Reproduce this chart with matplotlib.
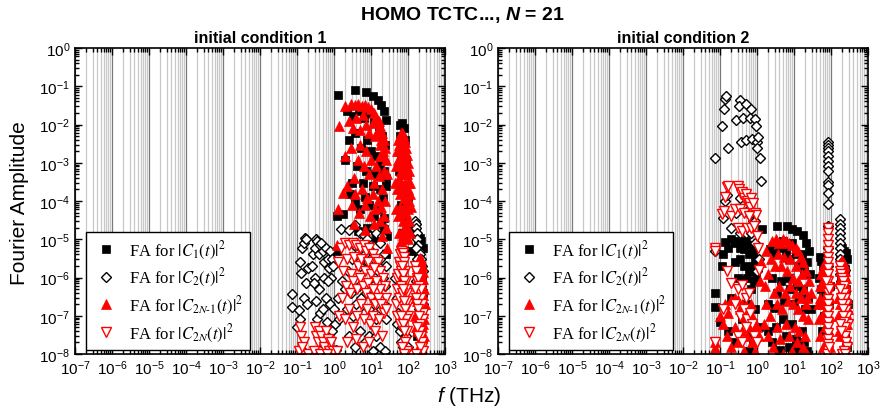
import numpy as np
import matplotlib
matplotlib.use("Agg")
import matplotlib.pyplot as plt
from matplotlib.ticker import LogLocator, FuncFormatter, NullFormatter

plt.rcParams['font.family'] = ['Liberation Sans', 'DejaVu Sans']
plt.rcParams['mathtext.fontset'] = 'custom'
plt.rcParams['mathtext.rm'] = 'Liberation Sans'
plt.rcParams['mathtext.it'] = 'Liberation Sans:italic'
plt.rcParams['mathtext.bf'] = 'Liberation Sans:bold'
plt.rcParams['mathtext.bfit'] = 'Liberation Sans:italic:bold'

# ---------------- data: (f in THz, Fourier amplitude) ----------------
# initial condition 1
c1_ic1 = [(1.3,6e-2),(3.8,8e-2),(7.2,7e-2),(11,5.5e-2),(15,4.5e-2),(19,3.3e-2),(22,2.2e-2),(25,1.3e-2),
          (2.2,2.2e-2),(3.3,1.7e-2),(4.8,2.3e-2),(6.5,1.5e-2),(9,2e-2),(12,1.2e-2),(16,8e-3),(20,5e-3),(24,3e-3),
          (2.5,4e-3),(3.6,6e-3),(5.5,2.5e-3),(8,4e-3),(10,2e-3),(14,1.5e-3),(18,1e-3),(22,6e-4),(26,4e-4),
          (2.0,1.2e-3),(3.0,3e-4),(4.2,8e-4),(6,3e-4),(7.5,6e-4),(11,2.5e-4),(13,5e-4),(17,2e-4),(21,1.2e-4),(25,2.5e-4),
          (1.2,4e-5),(1.8,4.5e-5),(2.7,1.5e-4),(3.8,9e-5),(5,6e-5),(6.8,1.3e-4),(9,8e-5),(12,4e-5),(15,6e-5),
          (19,2.5e-5),(23,3.5e-5),(27,1.2e-5),(1.2,5e-6),(4.5,1.6e-5),(8,2e-5),(14,1.1e-5),(22,1.8e-5),(26,4e-6),
          (62,1e-2),(70,1.1e-2),(77,8e-3),(60,5e-3),(84,4e-3),(66,1.5e-3),(90,1.2e-3),(58,6e-4),(95,5e-4),
          (72,2e-4),(100,1.3e-4),(64,8e-5),(80,4e-5),(105,2e-5),(68,1.5e-5),(98,5e-6),(58,1e-6),
          (150,2.5e-5),(165,1.5e-5),(185,1e-5),(205,1.1e-5),(230,9e-6),(250,6e-6),(160,5e-6),(190,3e-6),
          (215,2e-6),(240,1e-6),(175,8e-7),(260,4e-7),(200,2e-7),(230,6e-8),(180,3e-8)]

c2_ic1 = [(0.075,3.6e-7),(0.075,1.7e-7),(0.1,5e-8),(0.11,1.4e-7),(0.12,2.5e-6),(0.13,1.3e-6),(0.14,6e-6),
          (0.15,8e-6),(0.16,1.1e-5),(0.17,1e-5),(0.15,3e-7),(0.17,7e-7),(0.19,2e-7),(0.2,1.8e-6),(0.12,8e-8),(0.14,1.3e-8),
          (0.25,2e-6),(0.27,4e-6),(0.3,6e-6),(0.33,1e-5),(0.35,9e-6),(0.3,1e-6),(0.33,2.5e-7),(0.35,8e-8),(0.28,7e-7),
          (0.4,4e-6),(0.42,7e-6),(0.45,8e-6),(0.4,5e-7),(0.43,1.2e-7),(0.45,2e-8),
          (0.5,5e-6),(0.55,2.5e-6),(0.6,6e-6),(0.55,1e-6),(0.6,3e-7),(0.5,1.5e-7),(0.65,7e-8),(0.7,3e-6),(0.75,1.8e-6),
          (0.8,5e-6),(0.85,1e-6),(0.8,2e-7),(0.7,8e-7),(0.9,3e-6),(0.95,2e-6),(1.0,1.5e-7),(1.05,6e-8),(0.9,4e-8),
          (1.1,1.3e-8),(0.75,1.5e-8),(0.6,3e-8),
          (1.5,1.8e-5),(2.5,1.7e-5),(3.7,2.4e-5),(5,1.5e-5),(6.5,1.3e-5),(8,1e-5),(11,2e-5),(14,1.5e-5),(17,8e-6),
          (20,1.2e-5),(23,4e-6),(26,2e-6),
          (1.3,3e-7),(1.6,8e-7),(2.0,5e-7),(2.4,1.5e-6),(3,3e-6),(3.5,7e-6),(4.2,4e-6),(5.2,2e-6),(6,6e-6),(7,4e-6),
          (8.5,2.5e-6),(10,5e-6),(12,3e-6),(13,1e-6),(15,2e-6),(18,3e-6),(21,1e-6),(24,6e-7),
          (1.4,8e-8),(2.2,1.5e-7),(2.8,4e-7),(3.3,1e-7),(4,2e-7),(4.8,6e-7),(5.5,3e-7),(6.5,1.2e-7),(7.5,4e-7),
          (9,1.5e-7),(11,6e-7),(12.5,2.5e-7),(14,8e-8),(16,3e-7),(19,1.5e-7),(22,2e-7),(25,8e-8),
          (2.5,3e-8),(3.8,1.5e-8),(5,4e-8),(7,2e-8),(9,3e-8),(11,1.2e-8),(14,3e-8),(18,1.5e-8),(24,1.2e-8),
          (45,1e-6),(50,3e-7),(55,1.2e-7),(50,6e-8),(60,4e-8),(65,2e-8),(70,5e-8),(75,1.5e-8),(80,8e-8),(90,3e-8),
          (100,1.5e-8),(58,6e-7),
          (155,3e-5),(160,2.5e-5),(165,2e-5),(170,1.5e-5),(175,1e-5),(185,7e-6),(195,5e-6),(210,4e-6),(225,3e-6),
          (240,2e-6),(250,1.5e-6),(165,6e-6),(175,3e-6),(190,1.5e-6),(205,1e-6),(220,6e-7),(235,4e-7),(250,2e-7),
          (160,8e-7),(180,3e-7),(200,1.5e-7),(215,8e-8),(230,5e-8),(170,4e-8),(240,2e-8)]

c2n1_ic1 = [(1.4,9e-3),(2.0,3e-2),(2.8,3.5e-2),(3.6,3.3e-2),(4.5,3.4e-2),(5.8,3e-2),(7,3.2e-2),(8.5,2.8e-2),
            (10,2.5e-2),(12,2e-2),(14,1.6e-2),(16,1.2e-2),(18,9e-3),(20,6e-3),(22,4e-3),(24,2.5e-3),(26,1.2e-3),(27,5e-4),
            (2.5,1.2e-2),(3.2,8e-3),(4,1.5e-2),(5,7e-3),(6,1.8e-2),(7.5,1e-2),(9,6e-3),(11,1.1e-2),(13,5e-3),
            (15,7e-3),(17,3e-3),(19,4e-3),(21,2e-3),(23,1.5e-3),
            (2.0,1.5e-3),(2.8,2.5e-3),(3.5,4e-4),(4.4,1.2e-3),(5.2,3e-3),(6.3,8e-4),(7.5,2e-3),(8.8,5e-4),(10,1.2e-3),
            (12,3e-4),(13.5,8e-4),(16,4.5e-4),(18,1.5e-3),(20,2e-4),(22,6e-4),(24,1e-4),
            (1.3,6e-5),(1.8,1.6e-4),(2.3,2.5e-4),(3.0,8e-5),(3.8,1.5e-4),(4.8,5e-5),(5.6,2e-4),(6.8,8e-5),(8,1.2e-4),
            (9.5,4e-5),(11,1.5e-4),(13,6e-5),(15,1e-4),(17,3e-5),(19,7e-5),(22,4e-5),(25,2e-5),(27,6e-6),
            (1.2,7e-6),(3.5,2.5e-5),(7,1.7e-5),(12,2.5e-5),(20,1.2e-5),
            (55,4e-3),(60,5e-3),(65,6e-3),(70,6e-3),(75,5.5e-3),(80,4.5e-3),(85,3.5e-3),(90,2.5e-3),(95,1.6e-3),
            (100,1e-3),(105,6e-4),(110,3e-4),(115,1.5e-4),(120,7e-5),
            (52,2e-3),(58,3e-3),(62,2e-3),(67,3.5e-3),(72,2.5e-3),(77,1.8e-3),(82,1.2e-3),(88,8e-4),(93,5e-4),
            (98,3e-4),(103,2e-4),(108,1e-4),
            (48,8e-4),(54,1.2e-3),(60,1e-3),(64,6e-4),(69,1.2e-3),(74,8e-4),(79,5e-4),(84,3e-4),(90,2e-4),
            (96,1.2e-4),(101,6e-5),(106,3e-5),(112,1.5e-5),
            (45,3e-4),(50,2e-4),(56,4e-4),(62,1.5e-4),(66,3e-4),(71,2e-4),(76,1.2e-4),(82,8e-5),(87,5e-5),
            (92,3e-5),(97,1.8e-5),(103,1e-5),
            (48,6e-5),(55,4e-5),(60,7e-5),(68,5e-5),(74,3e-5),(80,2e-5),(86,1.2e-5),(58,1.5e-5),(65,9e-6),(72,1.3e-5),
            (150,3e-7),(160,8e-7),(170,1.5e-6),(180,2e-6),(190,2.5e-6),(200,3e-6),(210,3.2e-6),(220,3e-6),
            (230,2.5e-6),(240,2e-6),(250,1.4e-6),(260,9e-7),(270,5e-7),(280,2e-7),
            (155,1e-7),(165,3e-7),(175,6e-7),(185,1e-6),(195,1.4e-6),(205,1.6e-6),(215,1.5e-6),(225,1.2e-6),
            (235,9e-7),(245,6e-7),(255,3.5e-7),(265,2e-7),(275,8e-8),
            (160,5e-8),(170,1.2e-7),(180,2.5e-7),(190,4e-7),(200,6e-7),(210,5e-7),(220,4e-7),(230,3e-7),
            (240,2e-7),(250,1.2e-7),(260,6e-8),(270,3e-8),
            (175,4e-8),(185,8e-8),(195,1.5e-7),(205,2e-7),(215,1.5e-7),(225,9e-8),(235,5e-8),(245,3e-8),
            (200,1.5e-8),(220,1.2e-8),(240,1e-8),(180,1.2e-8)]

c2n_ic1 = [(0.12,5e-8),(0.13,3e-8),(0.15,2e-8),(0.11,1.2e-8),(0.14,1.5e-8),(0.2,1e-8),(0.3,5e-8),(0.33,3e-8),
           (0.36,2e-8),(0.28,1.2e-8),(0.4,4e-8),(0.45,3e-8),(0.5,2e-8),(0.55,1.5e-8),(0.42,1e-8),(0.6,4e-8),
           (0.7,2.5e-8),(0.75,1.2e-8),(0.85,2e-8),(0.95,1.2e-8),(0.65,1e-8),
           (1.3,2.5e-6),(1.5,6e-6),(2.0,8e-6),(2.6,7e-6),(3.2,8e-6),(4,7e-6),(5,6e-6),(6.3,7e-6),(7.5,5e-6),
           (9,6e-6),(11,4e-6),(13,3e-6),(15,2.5e-6),(18,1.5e-6),(21,1e-6),(24,6e-7),(26,3e-7),
           (1.8,1.5e-6),(2.3,3e-6),(2.8,1.2e-6),(3.5,3.5e-6),(4.5,2e-6),(5.5,3e-6),(7,1.5e-6),(8.5,2.5e-6),
           (10,1.2e-6),(12,1.8e-6),(14,8e-7),(17,5e-7),
           (1.6,3e-7),(2.1,6e-7),(2.7,4e-7),(3.3,8e-7),(4.1,5e-7),(5,1e-6),(6,6e-7),(7.2,4e-7),(8.5,7e-7),
           (10,3e-7),(11.5,5e-7),(13,2e-7),(15.5,3e-7),(19,2e-7),(22,1.2e-7),(25,1.5e-7),
           (1.4,1e-7),(2,8e-8),(2.6,1.5e-7),(3.3,5e-8),(4.2,1e-7),(5.3,2e-7),(6.5,8e-8),(8,1.5e-7),(9.5,6e-8),
           (11,1e-7),(13,4e-8),(16,8e-8),(20,3e-8),(1.2,1.2e-8),(2.3,2e-8),(4,2.5e-8),(6,1.5e-8),(9,2e-8),
           (48,2e-7),(52,1e-6),(56,2.5e-6),(60,4e-6),(64,5e-6),(68,5e-6),(72,4.5e-6),(76,3.5e-6),(80,2.5e-6),
           (85,1.5e-6),(90,8e-7),(95,4e-7),(100,2e-7),
           (50,5e-7),(55,1.2e-6),(62,2e-6),(66,1.5e-6),(70,2e-6),(75,1.2e-6),(80,8e-7),(86,5e-7),(92,2.5e-7),(98,1e-7),
           (52,1e-7),(58,3e-7),(63,6e-7),(68,4e-7),(73,5e-7),(78,2.5e-7),(84,1.5e-7),(90,8e-8),(96,4e-8),
           (60,6e-8),(66,1e-7),(72,6e-8),(78,4e-8),(85,2e-8),(92,1.2e-8),(70,1.5e-8),(80,1e-8),
           (150,2e-6),(160,1.5e-6),(170,1e-6),(180,8e-7),(190,1e-6),(200,6e-7),(210,4e-7),(220,5e-7),(230,3e-7),
           (240,2e-7),(250,1.2e-7),(260,8e-8),(155,5e-7),(165,3e-7),(175,2e-7),(185,1.5e-7),(195,1e-7),
           (205,6e-8),(215,4e-8),(225,3e-8),(235,2e-8),(245,1.5e-8),(255,1.2e-8),(170,5e-8),(190,3e-8),
           (210,1.5e-8),(160,1e-8)]

# initial condition 2
c1_ic2 = [(0.072,4e-7),(0.072,1.7e-7),(0.1,7e-8),(0.11,2e-6),(0.12,4e-6),(0.14,8.5e-6),(0.16,6e-6),(0.2,1e-5),
          (0.25,8e-6),(0.3,9e-6),(0.35,6e-6),(0.4,8e-6),(0.45,5.5e-6),(0.5,9e-6),(0.55,6e-6),(0.6,4e-6),(0.7,7e-6),
          (0.8,5e-6),(0.9,3e-6),(1.0,2.5e-6),(1.4,1.8e-5),(0.25,2.5e-6),(0.35,3e-6),(0.45,2e-6),(0.6,1.5e-6),
          (0.75,2e-6),(0.3,1e-6),(0.4,8.5e-7),(0.55,1e-6),(0.7,5e-7),(0.85,8e-7),(0.95,1.1e-6),(0.2,3e-7),
          (0.4,8e-8),(0.5,2e-7),(0.7,3.6e-8),(0.25,2e-8),(0.9,1.5e-7),(1.1,5e-8),(0.6,1.2e-8),(0.16,4e-8),(0.8,2e-8),
          (3.5,2.2e-5),(6.6,2.2e-5),(9,1.9e-5),(12,1.6e-5),(17,1.3e-5),(21,8e-6),(25,5e-6),(2.2,5.6e-6),(2.5,1e-6),
          (3,4e-6),(4,6e-6),(5,9e-6),(6,5e-6),(7.5,3e-6),(9,8e-6),(11,4e-6),(13,2e-6),(16,4e-6),(19,1.5e-6),
          (23,2.5e-6),(27,1.2e-6),
          (2,2e-7),(2.8,1.6e-7),(3.5,4e-7),(4.5,8e-7),(5.5,2.5e-7),(6.8,1e-6),(8,5e-7),(10,2e-7),(12,6e-7),
          (14,3e-7),(17,5e-7),(20,1.5e-7),(24,3e-7),(28,1.5e-7),
          (2,4e-8),(2.5,2e-8),(3.3,5e-8),(4.2,1.3e-8),(5,8e-8),(6,3e-8),(7.5,1.5e-8),(9,6e-8),(11,2.5e-8),
          (13,1.2e-8),(16,4e-8),(19,2e-8),(23,1.2e-8),
          (50,3.5e-6),(55,2.7e-6),(60,2e-6),(48,1e-6),(55,5e-7),(62,3e-7),(70,1.2e-6),(65,1e-7),(75,3e-7),
          (58,4e-8),(90,2e-7),(95,6e-7),
          (200,6e-6),(230,5e-6),(260,4.5e-6),(270,3e-6),(180,3e-6),(210,2e-6),(240,1.5e-6),(190,8e-7),
          (250,5e-7),(220,3e-7),(280,2e-7),(260,1e-7),(200,6e-8),(240,3e-8),(270,1.5e-8)]

c2_ic2 = [(0.074,1.3e-3),(0.11,9e-3),(0.13,2.6e-2),(0.14,4.6e-2),(0.145,5.5e-2),(0.16,2.4e-3),(0.27,1.3e-2),
          (0.35,4.5e-2),(0.33,3e-2),(0.37,3.5e-3),(0.43,1.5e-2),(0.5,3.5e-2),(0.5,4e-3),(0.69,2.5e-2),(0.66,1.5e-2),
          (0.72,4.3e-3),(0.88,1.4e-2),(0.92,9e-3),(1.0,3.5e-3),(1.05,4.6e-3),(1.0,2.4e-3),(1.2,1.3e-3),(1.3,3.4e-4),
          (0.14,1e-4),(0.15,1.4e-4),(0.27,5e-5),(0.35,1.2e-4),(0.4,6e-5),(0.5,7e-5),(0.6,6e-5),(0.7,4e-5),
          (0.8,3e-5),(0.9,3e-5),(0.12,3.5e-5),(0.074,5e-6),(0.35,1.5e-5),(0.5,1.5e-5),(0.7,1.5e-5),(0.9,8e-6),
          (1.0,1.5e-6),(1.1,3e-6),(0.2,2e-5),
          (83,3.5e-3),(83,3e-3),(83,2.5e-3),(83,2e-3),(83,1.5e-3),(83,1.1e-3),(83,8e-4),(83,6e-4),(83,3.2e-4),
          (83,2.7e-4),(83,1.6e-4),(83,8.5e-5),(83,2.2e-5),(82,6e-6),(84,2e-6),
          (172,3.3e-5),(172,2.5e-5),(172,2e-5),(172,1.5e-5),(172,1.1e-5),(172,8e-6),(172,6e-6),(172,4e-6),
          (180,3e-6),(200,2.5e-6),(220,2e-6),(240,1.6e-6),(175,1.2e-6),(190,8e-7),(210,5e-7)]

c2n1_ic2 = [(0.072,1.4e-8),(0.072,2e-8),(0.1,1e-7),(0.12,6e-8),(0.14,2e-7),(0.16,1.2e-7),(0.2,2.6e-7),(0.25,3e-7),
            (0.3,2.6e-7),(0.35,1.5e-7),(0.4,2e-7),(0.45,1e-7),(0.5,1.8e-7),(0.6,1.3e-7),(0.7,2e-7),(0.8,9e-8),
            (0.9,6e-8),(1.0,5e-8),(1.1,3e-8),(0.15,3e-8),(0.2,1.5e-8),(0.25,5e-8),(0.3,2e-8),(0.4,4e-8),
            (0.45,1.2e-8),(0.55,3e-8),(0.65,5e-8),(0.75,2e-8),(0.9,1.2e-8),(1.3,2.5e-6),(1.2,8e-7),
            (1.8,5e-6),(2.5,9e-6),(3.2,1e-5),(4,8e-6),(5,1e-5),(6,9e-6),(7.5,8e-6),(9,7e-6),(11,6e-6),(13,5e-6),
            (15,3.5e-6),(18,2.5e-6),(21,1.5e-6),(25,8e-7),(28,4e-7),
            (1.6,6e-7),(2,1.2e-6),(2.4,3e-6),(3,2e-6),(3.6,4e-6),(4.5,2e-6),(5.5,3.5e-6),(6.5,1.5e-6),(8,3e-6),
            (9.5,1e-6),(11,2e-6),(13,8e-7),(16,1.2e-6),(19,5e-7),(23,3e-7),
            (1.5,6e-8),(1.8,2e-7),(2.3,1e-7),(2.8,4e-7),(3.4,2e-7),(4,6e-7),(4.8,1.5e-7),(5.6,4e-7),(6.8,2.5e-7),
            (8,6e-7),(9.5,2e-7),(11,4e-7),(13,1.5e-7),(15,3e-7),(18,1e-7),(21,2e-7),(24,8e-8),
            (2,3e-8),(2.7,1.5e-8),(3.5,5e-8),(4.3,2.5e-8),(5.2,1e-8),(6.2,6e-8),(7.5,3e-8),(9,1.2e-8),(10.5,5e-8),
            (12,2e-8),(14,4e-8),(17,1.5e-8),(20,3e-8),(23,1e-8),
            (45,2e-7),(50,6e-7),(55,1.2e-6),(60,1.8e-6),(65,2.2e-6),(70,2e-6),(75,1.5e-6),(80,1e-6),(85,6e-7),
            (90,3e-7),(48,8e-8),(52,3e-7),(58,6e-7),(63,1e-6),(68,8e-7),(73,6e-7),(78,4e-7),(84,2e-7),(90,1e-7),
            (50,3e-8),(56,1e-7),(62,2e-7),(68,3e-7),(74,1.5e-7),(80,8e-8),(86,4e-8),(60,1.5e-8),(70,5e-8),
            (78,2e-8),(92,1.5e-8),
            (150,3e-7),(160,8e-7),(170,1.5e-6),(180,2e-6),(190,2.5e-6),(200,2.8e-6),(210,2.6e-6),(220,2.3e-6),
            (230,2e-6),(240,1.5e-6),(250,1e-6),(260,6e-7),(270,3e-7),(280,1.5e-7),
            (155,1e-7),(165,3e-7),(175,7e-7),(185,1e-6),(195,1.3e-6),(205,1.4e-6),(215,1.2e-6),(225,1e-6),
            (235,7e-7),(245,5e-7),(255,3e-7),(265,1.5e-7),(275,6e-8),
            (160,4e-8),(170,1e-7),(180,2e-7),(190,4e-7),(200,5e-7),(210,6e-7),(220,5e-7),(230,3.5e-7),(240,2e-7),
            (250,1.2e-7),(260,6e-8),(270,2.5e-8),
            (175,3e-8),(185,6e-8),(195,1.2e-7),(205,2e-7),(215,1.5e-7),(225,1e-7),(235,6e-8),(245,3e-8),
            (190,1.2e-8),(210,1.5e-8),(230,1.2e-8),(250,1e-8)]

c2n_ic2 = [(0.072,6e-6),(0.072,5e-6),(0.11,4.5e-5),(0.14,1.3e-4),(0.15,2.3e-4),(0.16,2.5e-4),(0.13,5.5e-5),
           (0.2,4e-5),(0.25,6e-5),(0.3,2.4e-4),(0.33,2e-4),(0.36,1.5e-4),(0.4,1.7e-4),(0.45,1.2e-4),(0.5,1.5e-4),
           (0.55,1e-4),(0.6,9e-5),(0.65,7e-5),(0.7,1.2e-4),(0.8,9e-5),(0.9,5e-5),(0.95,4.3e-5),(0.35,6e-5),
           (0.45,5e-5),(0.6,4e-5),(0.3,2e-5),(0.4,1.6e-5),(0.55,2e-5),(0.7,2e-5),(0.85,2.2e-5),(1.0,1.2e-5),
           (1.05,6e-6),(1.15,1.6e-6),(0.15,1.5e-6),(0.2,7e-7),(0.3,5e-7),(0.4,6.5e-7),(0.5,3e-7),(0.6,4e-7),
           (0.12,1.5e-7),(0.25,2e-7),(0.35,1e-7),(0.45,1.5e-7),(0.55,8e-8),(0.65,1.2e-7),(0.75,6e-8),(0.5,5e-8),
           (0.072,2e-8),(0.3,3e-8),(0.85,3e-8),(0.4,2e-8),(1.0,2e-8),
           (83,2e-5),(83,1.5e-5),(83,1e-5),(83,7e-6),(83,5e-6),(83,3.5e-6),(83,2.5e-6),(83,1.8e-6),(83,1.2e-6),
           (83,8e-7),(83,5.5e-7),(83,4e-7),(83,2.8e-7),(83,2e-7),(83,1.4e-7),(83,1e-7),(83,7e-8),(83,5e-8),
           (83,3.5e-8),(83,2.5e-8),(83,1.8e-8),(83,1.2e-8),(78,1e-8),(88,1.5e-8),(75,8e-7),(90,5e-7),
           (170,2e-6),(180,1.5e-6),(190,1.2e-6),(200,1e-6),(210,8e-7),(220,6e-7),(230,4e-7),(240,3e-7),
           (250,2e-7),(260,1.4e-7),(270,1e-7),(280,6e-8),(175,5e-7),(185,3e-7),(195,2e-7),(205,1.5e-7),
           (215,1e-7),(225,7e-8),(235,5e-8),(245,3e-8),(255,2e-8),(265,1.5e-8),(200,1e-8),(220,1.2e-8),
           (180,6e-8),(190,4e-8),(240,1e-8)]

labels = [r'FA for $|C_1(t)|^2$', r'FA for $|C_2(t)|^2$',
          r'FA for $|C_{2N\text{-}1}(t)|^2$', r'FA for $|C_{2N}(t)|^2$']
panels = [('initial condition 1', [c1_ic1, c2_ic1, c2n1_ic1, c2n_ic1]),
          ('initial condition 2', [c1_ic2, c2_ic2, c2n1_ic2, c2n_ic2])]

styles = [dict(marker='s', ms=6, mfc='black', mec='black', mew=0.5),
          dict(marker='D', ms=5.3, mfc='white', mec='black', mew=1.0),
          dict(marker='^', ms=7, mfc='red', mec='red', mew=0.5),
          dict(marker='v', ms=6.8, mfc='white', mec='red', mew=1.0)]

fig = plt.figure(figsize=(8.81, 4.14), dpi=100)
positions = [[75/881, 1-355/414, 370/881, 306/414],
             [498/881, 1-355/414, 370/881, 306/414]]

sci = FuncFormatter(lambda v, p: r'$\mathregular{10^{%d}}$' % int(round(np.log10(v))))

for pos, (title, series) in zip(positions, panels):
    ax = fig.add_axes(pos)
    for data, st, lab in zip(series, styles, labels):
        f = np.array([d[0] for d in data])
        a = np.array([d[1] for d in data])
        ax.plot(f, a, ls='none', label=lab, **st)
    ax.set_xscale('log')
    ax.set_yscale('log')
    ax.set_xlim(1e-7, 1e3)
    ax.set_ylim(1e-8, 1e0)
    ax.xaxis.set_major_locator(LogLocator(base=10, numticks=20))
    ax.xaxis.set_minor_locator(LogLocator(base=10, subs=np.arange(2, 10), numticks=20))
    ax.yaxis.set_major_locator(LogLocator(base=10, numticks=20))
    ax.yaxis.set_minor_locator(LogLocator(base=10, subs=np.arange(2, 10), numticks=20))
    ax.xaxis.set_major_formatter(sci)
    ax.yaxis.set_major_formatter(sci)
    ax.xaxis.set_minor_formatter(NullFormatter())
    ax.yaxis.set_minor_formatter(NullFormatter())
    ax.tick_params(which='both', direction='in', top=True, right=True, labelsize=11, width=1)
    ax.tick_params(which='major', length=5)
    ax.tick_params(which='minor', length=3)
    ax.grid(True, which='major', axis='x', color='#7a7a7a', lw=0.9)
    ax.grid(True, which='minor', axis='x', color='#c8c8c8', lw=0.9)
    ax.set_axisbelow(True)
    for s in ax.spines.values():
        s.set_linewidth(1.2)
    ax.set_title(title, fontsize=11.5, fontweight='bold', pad=4)
    leg = ax.legend(loc='lower left', bbox_to_anchor=(0.03, 0.012), fancybox=False,
                    edgecolor='black', framealpha=1, borderpad=0.4, labelspacing=0.33,
                    handletextpad=0.6, borderaxespad=0.0, handlelength=1.6,
                    prop={'family': 'Liberation Serif', 'size': 12, 'math_fontfamily': 'stix'})
    leg.get_frame().set_linewidth(1.0)

# titles and axis labels
fig.text(0.525, 0.963, r'HOMO TCTC..., $\mathbfit{N}$ = 21', fontsize=14, fontweight='bold',
         va='center', ha='center')
fig.text(0.533, 0.043, r'$\mathit{f}$ (THz)', fontsize=15, va='center', ha='center')
fig.text(0.022, 0.51, 'Fourier Amplitude', fontsize=15, rotation=90, va='center', ha='center')

fig.savefig('out.png', dpi=100)
